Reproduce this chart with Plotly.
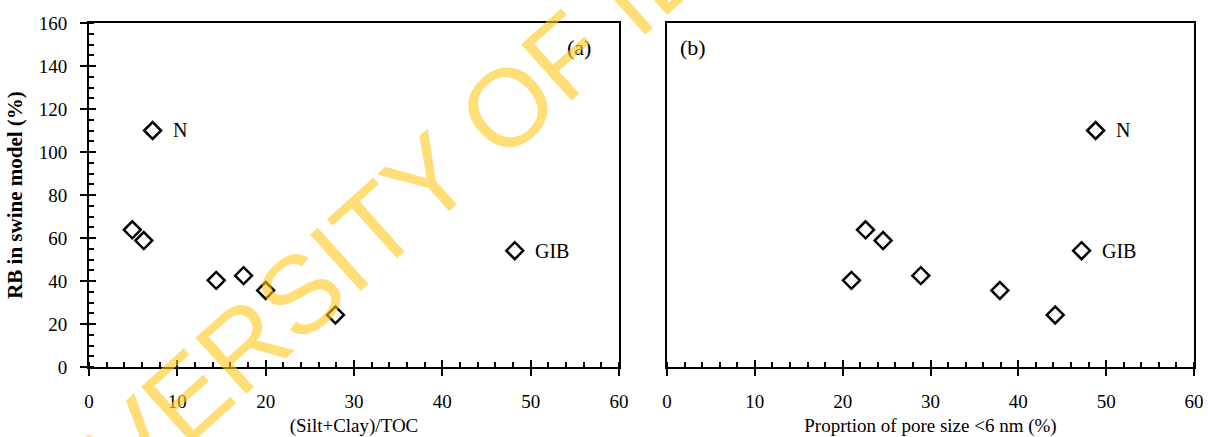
import plotly.graph_objects as go

# Sample labels and measured values
sample_labels = ["N", "", "", "", "", "", "", "GIB"]
silt_clay_toc = [7.2, 4.9, 6.2, 14.4, 17.5, 20.0, 27.9, 48.2]
pore_lt6nm = [48.8, 22.6, 24.6, 21.0, 28.9, 37.9, 44.2, 47.2]
rb_swine = [110.0, 63.8, 58.8, 40.3, 42.5, 35.6, 24.2, 54.1]

x_ticks = [0, 10, 20, 30, 40, 50, 60]
y_ticks = [0, 20, 40, 60, 80, 100, 120, 140, 160]

W, H = 1208, 437
SERIF = "Liberation Serif"

def px(v):
    return v / W

def py(v):
    return 1 - v / H

dom_a = [px(89), px(619)]
dom_b = [px(667), px(1194)]
dom_y = [py(367), py(23)]

marker = dict(symbol="diamond-open", size=13, color="black",
              line=dict(width=2.5, color="black"))

fig = go.Figure()
fig.add_trace(go.Scatter(x=silt_clay_toc, y=rb_swine, mode="markers",
                         marker=marker, xaxis="x", yaxis="y",
                         showlegend=False, hoverinfo="x+y"))
fig.add_trace(go.Scatter(x=pore_lt6nm, y=rb_swine, mode="markers",
                         marker=marker, xaxis="x2", yaxis="y2",
                         showlegend=False, hoverinfo="x+y"))
# empty traces so the overlay tick axes get drawn
for xa, ya in (("x3", "y"), ("x4", "y2"), ("x", "y3")):
    fig.add_trace(go.Scatter(x=[None], y=[None], mode="markers",
                             xaxis=xa, yaxis=ya, showlegend=False,
                             hoverinfo="skip"))

tick_font = dict(family=SERIF, size=19, color="black")

def x_main(domain, anchor, title):
    return dict(domain=domain, anchor=anchor, range=[0, 60],
                tickvals=x_ticks, ticks="outside", ticklen=7, tickwidth=2,
                tickcolor="black", showline=True, linewidth=2,
                linecolor="black", mirror=True, showgrid=False,
                zeroline=False, tickfont=tick_font, ticklabelstandoff=9,
                automargin=False,
                minor=dict(dtick=2, ticks="inside", ticklen=5,
                           tickwidth=2, tickcolor="black", showgrid=False),
                title=dict(text=title, font=tick_font, standoff=14))

def x_inside(over, anchor):
    return dict(overlaying=over, anchor=anchor, side="bottom",
                range=[0, 60], tickvals=x_ticks, ticks="inside",
                ticklen=7, tickwidth=2, tickcolor="black",
                showticklabels=False, showline=False, showgrid=False,
                zeroline=False, automargin=False)

fig.update_layout(
    width=W, height=H,
    margin=dict(l=0, r=0, t=0, b=0, autoexpand=False),
    paper_bgcolor="white", plot_bgcolor="white",
    xaxis=x_main(dom_a, "y", "(Silt+Clay)/TOC"),
    xaxis2=x_main(dom_b, "y2", "Proprtion of pore size <6 nm (%)"),
    xaxis3=x_inside("x", "y"),
    xaxis4=x_inside("x2", "y2"),
    yaxis=dict(domain=dom_y, anchor="x", range=[0, 160], tickvals=y_ticks,
               ticks="outside", ticklen=7, tickwidth=2, tickcolor="black",
               showline=True, linewidth=2, linecolor="black", mirror=True,
               showgrid=False, zeroline=False, tickfont=tick_font,
               ticklabelstandoff=9, automargin=False,
               minor=dict(dtick=5, ticks="inside", ticklen=5, tickwidth=2,
                          tickcolor="black", showgrid=False),
               title=dict(text="RB in swine model (%)",
                          font=dict(family=SERIF, size=21, color="black",
                                    weight="bold"),
                          standoff=10)),
    yaxis2=dict(domain=dom_y, anchor="x2", range=[0, 160],
                showticklabels=False, ticks="", showline=True, linewidth=2,
                linecolor="black", mirror=True, showgrid=False,
                zeroline=False, automargin=False),
    yaxis3=dict(overlaying="y", anchor="x", side="left", range=[0, 160],
                tickvals=y_ticks, ticks="inside", ticklen=7, tickwidth=2,
                tickcolor="black", showticklabels=False, showline=False,
                showgrid=False, zeroline=False, automargin=False),
)

annotations = []
# sample names beside their points
for xa, ya, xs in (("x", "y", silt_clay_toc), ("x2", "y2", pore_lt6nm)):
    for name, xv, yv in zip(sample_labels, xs, rb_swine):
        if name:
            annotations.append(dict(
                x=xv, y=yv, xref=xa, yref=ya, text=name, showarrow=False,
                xanchor="left", yanchor="middle", xshift=18,
                font=dict(family=SERIF, size=20, color="black")))

# panel letters
for label, xpix in (("(a)", 579), ("(b)", 693)):
    annotations.append(dict(x=px(xpix), y=py(48), xref="paper", yref="paper",
                            text=label, showarrow=False, xanchor="center",
                            yanchor="middle",
                            font=dict(family=SERIF, size=22, color="black")))

# diagonal library watermark
annotations.append(dict(x=px(440), y=py(167), xref="paper", yref="paper",
                        text="UNIVERSITY OF IBADAN", showarrow=False,
                        xanchor="center", yanchor="middle", textangle=-42,
                        font=dict(family="Liberation Sans", size=110,
                                  color="rgba(255,200,30,0.6)")))

fig.update_layout(annotations=annotations)
fig.write_html("out.html")
